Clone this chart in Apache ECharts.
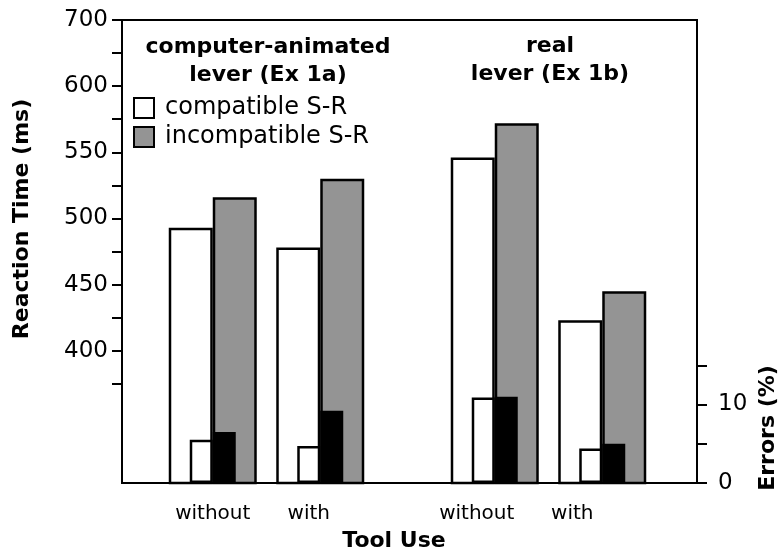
<!DOCTYPE html>
<html>
<head>
<meta charset="utf-8">
<script src="https://cdn.jsdelivr.net/npm/echarts@6/dist/echarts.min.js"></script>
<style>
  html, body { margin: 0; padding: 0; background: #fff; }
  #chart { width: 783px; height: 554px; }
</style>
</head>
<body>
<div id="chart"></div>
<script>
// categories
var toolUse = ['without', 'with'];
// Ex 1a (without, with), then Ex 1b (without, with)
var rtCompatible = [493, 478, 546, 423];
var rtIncompatible = [516, 530, 572, 445];
var errCompatible = [5.5, 4.7, 10.9, 4.4];
var errIncompatible = [6.5, 9.2, 11.0, 5.0];
// axis ticks
var rtTickValues = [375, 400, 425, 450, 475, 500, 525, 550, 575, 600, 625, 650];
var rtLabelValues = [400, 450, 500, 550, 600, 650];
var rtLabelText = ['400', '450', '500', '550', '600', '700'];
var errTickValues = [0, 5, 10, 15];
var errLabelValues = [0, 10];

var FONT = 'DejaVu Sans';
var GRAY = '#949494';
var RT_MIN = 300, RT_MAX = 650, ERR_MAX = 59;

var chart = echarts.init(document.getElementById('chart'));

function hiddenY(grid, min, max) {
  return { gridIndex: grid, type: 'value', min: min, max: max, show: false };
}

function labelAxis(grid, pads) {
  var rich = {};
  pads.forEach(function (p, i) {
    rich['l' + i] = { fontSize: 20, fontFamily: FONT, color: '#000', padding: [0, p, 0, 0] };
  });
  return {
    gridIndex: grid, type: 'category', data: toolUse,
    axisLine: { show: false }, axisTick: { show: false },
    axisLabel: {
      interval: 0, hideOverlap: false,
      margin: 21, fontSize: 20, fontFamily: FONT, color: '#000',
      formatter: function (v, i) { return '{l' + i + '|' + v + '}'; },
      rich: rich
    }
  };
}

function bar(name, data, xi, yi, color, width, z) {
  return {
    name: name, type: 'bar', xAxisIndex: xi, yAxisIndex: yi,
    data: data, barWidth: width, barGap: '0%', z: z,
    itemStyle: { color: color, borderColor: '#000', borderWidth: 2.5 }
  };
}

var option = {
  backgroundColor: '#fff',
  animation: false,
  grid: [
    { left: 122, right: 86, top: 20, bottom: 71, show: true, borderColor: '#000', borderWidth: 2 },
    { left: 159, width: 215, top: 20, bottom: 71 },
    { left: 441, width: 215, top: 20, bottom: 71 }
  ],
  legend: {
    orient: 'vertical', left: 128, top: 91,
    icon: 'rect', itemWidth: 20, itemHeight: 20, itemGap: 5,
    data: ['compatible S-R', 'incompatible S-R'],
    itemStyle: { borderColor: '#000', borderWidth: 2 },
    textStyle: { fontSize: 24, fontFamily: FONT, color: '#000', padding: [0, 0, 0, 6] }
  },
  xAxis: [
    { gridIndex: 0, type: 'category', data: [''], show: false },
    labelAxis(1, [0, 23]),
    { gridIndex: 1, type: 'category', data: toolUse, show: false },
    labelAxis(2, [36, 60]),
    { gridIndex: 2, type: 'category', data: toolUse, show: false }
  ],
  yAxis: [
    {
      gridIndex: 0, type: 'value', min: RT_MIN, max: RT_MAX, position: 'left',
      axisLine: { show: true, lineStyle: { color: '#000', width: 2 } },
      axisTick: { show: true, customValues: rtTickValues, length: 10, lineStyle: { color: '#000', width: 2 } },
      axisLabel: {
        customValues: rtLabelValues, margin: 14, fontSize: 23, fontFamily: FONT, color: '#000',
        formatter: function (v) { return rtLabelText[rtLabelValues.indexOf(v)]; }
      },
      splitLine: { show: false }
    },
    {
      gridIndex: 0, type: 'value', min: 0, max: ERR_MAX, position: 'right',
      axisLine: { show: true, lineStyle: { color: '#000', width: 2 } },
      axisTick: { show: true, customValues: errTickValues, length: 10, lineStyle: { color: '#000', width: 2 } },
      axisLabel: { customValues: errLabelValues, margin: 21, fontSize: 23, fontFamily: FONT, color: '#000' },
      splitLine: { show: false }
    },
    hiddenY(1, RT_MIN, RT_MAX),
    hiddenY(1, 0, ERR_MAX),
    hiddenY(2, RT_MIN, RT_MAX),
    hiddenY(2, 0, ERR_MAX)
  ],
  series: [
    bar('compatible S-R', rtCompatible.slice(0, 2), 1, 2, '#fff', 44, 2),
    bar('incompatible S-R', rtIncompatible.slice(0, 2), 1, 2, GRAY, 44, 2),
    bar('errors compatible', errCompatible.slice(0, 2), 2, 3, '#fff', 23, 3),
    bar('errors incompatible', errIncompatible.slice(0, 2), 2, 3, '#000', 23, 3),
    bar('compatible S-R', rtCompatible.slice(2, 4), 3, 4, '#fff', 44, 2),
    bar('incompatible S-R', rtIncompatible.slice(2, 4), 3, 4, GRAY, 44, 2),
    bar('errors compatible', errCompatible.slice(2, 4), 4, 5, '#fff', 23, 3),
    bar('errors incompatible', errIncompatible.slice(2, 4), 4, 5, '#000', 23, 3)
  ],
  graphic: [
    {
      type: 'text', x: 268, y: 61,
      style: { text: 'computer-animated\nlever (Ex 1a)', font: 'bold 22px ' + FONT, fill: '#000',
               align: 'center', verticalAlign: 'middle', lineHeight: 28 }
    },
    {
      type: 'text', x: 550, y: 60,
      style: { text: 'real\nlever (Ex 1b)', font: 'bold 22px ' + FONT, fill: '#000',
               align: 'center', verticalAlign: 'middle', lineHeight: 28 }
    },
    {
      type: 'text', x: 22, y: 219, rotation: Math.PI / 2,
      style: { text: 'Reaction Time (ms)', font: 'bold 22px ' + FONT, fill: '#000',
               align: 'center', verticalAlign: 'middle' }
    },
    {
      type: 'text', x: 768, y: 428, rotation: Math.PI / 2,
      style: { text: 'Errors (%)', font: 'bold 22px ' + FONT, fill: '#000',
               align: 'center', verticalAlign: 'middle' }
    },
    {
      type: 'text', x: 394, y: 541,
      style: { text: 'Tool Use', font: 'bold 22px ' + FONT, fill: '#000',
               align: 'center', verticalAlign: 'middle' }
    }
  ]
};

chart.setOption(option);
</script>
</body>
</html>
